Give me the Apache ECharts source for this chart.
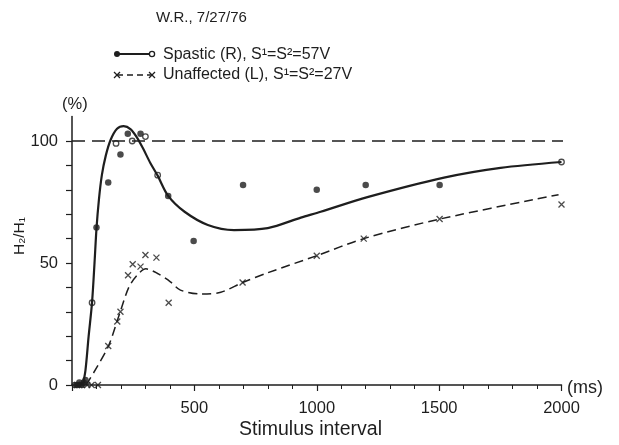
<!DOCTYPE html>
<html><head><meta charset="utf-8">
<script src="https://cdn.jsdelivr.net/npm/echarts@6/dist/echarts.min.js"></script>
<style>html,body{margin:0;padding:0;background:#fff}#c{width:619px;height:445px}</style>
</head><body><div id="c"></div>
<script>
// ---- data ----
const xTickLabels = [500, 1000, 1500, 2000];
const yTickLabels = [0, 50, 100];
const referenceLevel = 100;

// Spastic (R): fitted curve
const spasticCurve = [[44,0],[55,6],[68,20],[82,34],[92,50],[100,64],[110,76],[122,86],[138,94],[158,100.5],[184,105],[211,106.1],[240,104.8],[265,101.5],[290,97],[320,91],[350,85.8],[393,77.5],[460,71],[555,65.6],[662,63.5],[800,64.3],[935,68.6],[1016,71],[1207,77],[1520,85],[1751,89],[2000,91.4]];
// Spastic (R): filled measured points
const spasticDots = [[12,0],[22,0],[30,1],[40,0],[48,1],[55,2],[100,64.6],[148,83],[198,94.5],[228,103],[280,103],[393,77.5],[497,59],[699,82],[1000,80],[1200,82],[1502,82]];
// Spastic (R): open points lying on the curve
const spasticOpen = [[82,33.7],[180,99],[246,100],[300,101.8],[350,86],[2000,91.4]];

// Unaffected (L): fitted curve
const unaffCurve = [[58,0],[70,2],[103,7.5],[150,16.2],[197,30],[232,40],[266,45],[302,47.6],[348,45.8],[402,42.3],[443,38.9],[527,37.3],[608,38],[697,42],[800,46],[1000,53],[1192,60],[1502,68],[1988,78]];
// Unaffected (L): measured points
const unaffPts = [[20,0],[30,0],[40,0],[62,0],[80,0],[106,0],[148,16],[185,26],[198,30],[229,45],[248,49.5],[280,48.5],[300,53.3],[345,52.2],[395,33.7],[697,42],[1000,53],[1192,60],[1502,68],[2000,74]];

const ink = '#1e1e1e';
const font = 'Liberation Sans, Arial, sans-serif';
const xMark = 'path://M0,0L10,10M10,0L0,10';

const chart = echarts.init(document.getElementById('c'), null, {renderer:'canvas'});
const yMinor = []; for (let v = 0; v <= 100; v += 10) yMinor.push(v);

function cross(cx, cy) {
  return [
    {type:'line', shape:{x1:cx-3, y1:cy-3, x2:cx+3, y2:cy+3}, style:{stroke:ink, lineWidth:1.3}},
    {type:'line', shape:{x1:cx+3, y1:cy-3, x2:cx-3, y2:cy+3}, style:{stroke:ink, lineWidth:1.3}}
  ];
}
function label(text, x, y, size, align) {
  return {type:'text', x:x, y:y, style:{text:text, fill:ink, font:size+'px '+font, align:align||'left', verticalAlign:'middle'}};
}

chart.setOption({
  animation:false,
  backgroundColor:'#fff',
  grid:{left:72, top:116.6, width:489.5, height:268.4, containLabel:false},
  xAxis:{
    type:'value', min:0, max:2000, interval:500,
    axisLine:{show:true, onZero:false, lineStyle:{color:ink, width:1.5}},
    axisTick:{show:true, length:6, lineStyle:{color:ink, width:1.2}},
    minorTick:{show:true, splitNumber:5, length:4, lineStyle:{color:ink, width:1}},
    axisLabel:{customValues:xTickLabels, formatter:v => String(v), color:ink, fontFamily:font, fontSize:16.5, margin:15},
    splitLine:{show:false}, minorSplitLine:{show:false}
  },
  yAxis:{
    type:'value', min:0, max:110,
    axisLine:{show:true, onZero:false, lineStyle:{color:ink, width:1.5}},
    axisTick:{show:true, length:6, customValues:yMinor, lineStyle:{color:ink, width:1.2}},
    axisLabel:{customValues:yTickLabels, formatter:v => String(v), color:ink, fontFamily:font, fontSize:16.5, margin:14},
    splitLine:{show:false}
  },
  series:[
    {type:'line', data:[[0,referenceLevel],[2045,referenceLevel]], clip:false, symbol:'none', silent:true,
     lineStyle:{color:ink, width:1.3, type:[13,7]}},
    {type:'line', data:spasticCurve, smooth:0.3, symbol:'none', clip:false,
     lineStyle:{color:ink, width:2.2}},
    {type:'line', data:unaffCurve, smooth:0.3, symbol:'none', clip:false,
     lineStyle:{color:ink, width:1.5, type:[9,5]}},
    {type:'scatter', data:spasticDots, symbol:'circle', symbolSize:6.5, clip:false,
     itemStyle:{color:ink}},
    {type:'scatter', data:spasticOpen, symbol:'circle', symbolSize:5.5, clip:false,
     itemStyle:{color:'#fff', borderColor:ink, borderWidth:1.3}},
    {type:'scatter', data:unaffPts, symbol:xMark, symbolSize:6, clip:false,
     itemStyle:{color:'none', borderColor:ink, borderWidth:1.3}}
  ],
  graphic:[
    label('W.R., 7/27/76', 156, 18, 15),
    {type:'line', shape:{x1:117, y1:54, x2:152, y2:54}, style:{stroke:ink, lineWidth:2}},
    {type:'circle', shape:{cx:117, cy:54, r:3}, style:{fill:ink}},
    {type:'circle', shape:{cx:152, cy:54, r:2.6}, style:{fill:'#fff', stroke:ink, lineWidth:1.3}},
    label('Spastic (R), S¹=S²=57V', 163, 55, 16),
    {type:'line', shape:{x1:117, y1:75, x2:152, y2:75}, style:{stroke:ink, lineWidth:1.3, lineDash:[6,4]}},
    ...cross(117, 75), ...cross(152, 75),
    label('Unaffected (L), S¹=S²=27V', 163, 74.5, 16),
    label('(%)', 62, 104, 16.5),
    label('(ms)', 567, 388, 18),
    label('Stimulus interval', 310.5, 430, 19.5, 'center'),
    {type:'text', x:20, y:236, rotation:Math.PI/2,
     style:{text:'H₂/H₁', fill:ink, font:'15.5px '+font, align:'center', verticalAlign:'middle'}}
  ]
});
</script></body></html>
